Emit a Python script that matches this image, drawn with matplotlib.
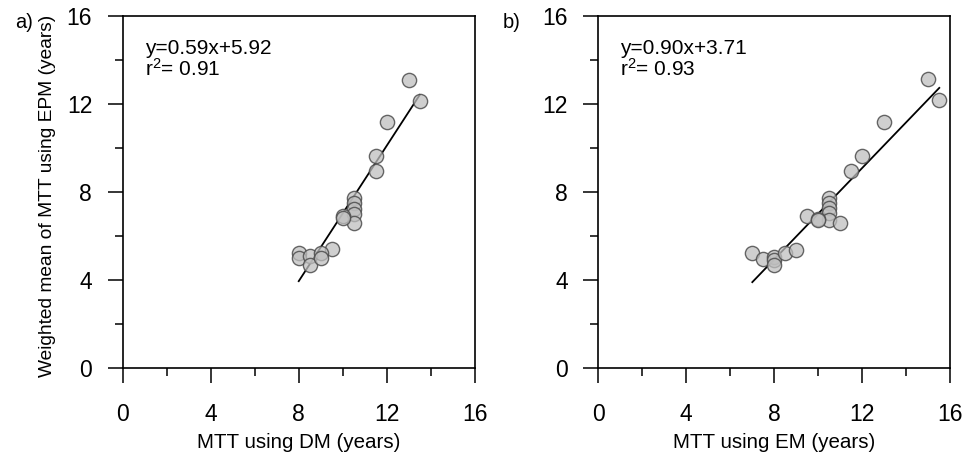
import matplotlib
matplotlib.use('Agg')
import matplotlib.pyplot as plt
import numpy as np
from matplotlib.ticker import MultipleLocator

plt.rcParams['font.family'] = ['Liberation Sans', 'DejaVu Sans']
plt.rcParams['mathtext.default'] = 'regular'

# panel a: MTT from DM vs weighted mean MTT from EPM
dm_x = [13.0, 13.5, 12.0, 11.5, 11.5, 10.5, 10.5, 10.5, 10.5, 10.5,
        10.0, 10.0, 9.5, 8.0, 8.0, 8.5, 8.5, 9.0, 9.0]
dm_y = [13.1, 12.15, 11.17, 9.64, 8.94, 7.75, 7.5, 7.25, 7.0, 6.6,
        6.9, 6.8, 5.4, 5.24, 4.98, 5.09, 4.7, 5.24, 4.98]

# panel b: MTT from EM vs weighted mean MTT from EPM
em_x = [15.0, 15.5, 13.0, 12.0, 11.5, 10.5, 10.5, 10.5, 10.5, 10.5,
        9.5, 10.0, 10.0, 11.0, 7.0, 7.5, 8.0, 8.0, 8.0, 8.5, 9.0]
em_y = [13.12, 12.18, 11.17, 9.64, 8.95, 7.74, 7.48, 7.26, 7.03, 6.73,
        6.91, 6.78, 6.74, 6.58, 5.21, 4.94, 5.03, 4.9, 4.7, 5.21, 5.36]

eq_a = ['y=0.59x+5.92', 'r$^2$= 0.91']
eq_b = ['y=0.90x+3.71', 'r$^2$= 0.93']

fig = plt.figure(figsize=(9.68, 4.53), dpi=100)

def panel(ax, x, y, eq, xlabel, letter, lx):
    x = np.array(x)
    y = np.array(y)
    # least squares line over the range of the data
    m, c = np.polyfit(x, y, 1)
    xs = np.array([x.min(), x.max()])
    ax.plot(xs, m * xs + c, color='black', lw=1.3, zorder=2)
    ax.scatter(x, y, s=105, facecolor=(0.75, 0.75, 0.75, 0.75),
               edgecolor=(0.3, 0.3, 0.3, 0.85), linewidth=1.0, zorder=3)

    ax.set_xlim(0, 16)
    ax.set_ylim(0, 16)
    ax.xaxis.set_major_locator(MultipleLocator(4))
    ax.xaxis.set_minor_locator(MultipleLocator(2))
    ax.yaxis.set_major_locator(MultipleLocator(4))
    ax.yaxis.set_minor_locator(MultipleLocator(2))
    ax.tick_params(which='major', direction='out', length=11, width=1.1,
                   labelsize=16.5)
    ax.tick_params(which='minor', direction='out', length=5.5, width=1.1)
    ax.tick_params(axis='x', which='major', pad=14)
    ax.tick_params(axis='y', which='major', pad=11)
    for s in ax.spines.values():
        s.set_linewidth(1.2)

    ax.set_xlabel(xlabel, fontsize=14.8)
    ax.xaxis.set_label_coords(0.5, -0.185)

    ax.text(1.0, 14.95, eq[0] + '\n' + eq[1], fontsize=15, va='top',
            ha='left', linespacing=1.0)
    fig.text(lx, 1 - 22 / 453, letter, fontsize=14.5, va='center', ha='left')

ax1 = fig.add_axes([0.1268, 0.1876, 0.3636, 0.7770])
panel(ax1, dm_x, dm_y, eq_a, 'MTT using DM (years)', 'a)', 15 / 968)
ax1.set_ylabel('Weighted mean of MTT using EPM (years)', fontsize=13.8)
ax1.yaxis.set_label_coords(-0.19, 0.49)

ax2 = fig.add_axes([0.6181, 0.1876, 0.3636, 0.7770])
panel(ax2, em_x, em_y, eq_b, 'MTT using EM (years)', 'b)', 503 / 968)

plt.savefig('out.png', dpi=100)
